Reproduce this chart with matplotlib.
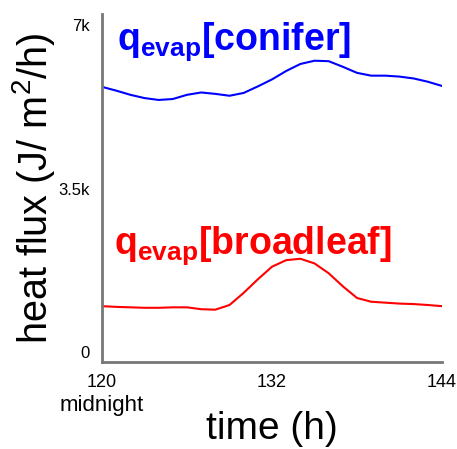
import matplotlib.pyplot as plt

plt.rcParams['font.family'] = ['Liberation Sans', 'DejaVu Sans']
plt.rcParams['mathtext.fontset'] = 'custom'
plt.rcParams['mathtext.rm'] = 'Liberation Sans'
plt.rcParams['mathtext.bf'] = 'Liberation Sans:bold'

# data (hourly)
hours = list(range(120, 145))
q_conifer = [5.68, 5.60, 5.51, 5.44, 5.40, 5.42, 5.51, 5.56, 5.53, 5.49, 5.55, 5.69, 5.84,
             6.02, 6.17, 6.24, 6.23, 6.11, 5.98, 5.92, 5.92, 5.90, 5.86, 5.79, 5.70]
q_broadleaf = [0.985, 0.97, 0.96, 0.95, 0.95, 0.96, 0.96, 0.92, 0.91, 1.01, 1.27, 1.56, 1.83,
               1.97, 2.00, 1.90, 1.69, 1.41, 1.16, 1.08, 1.06, 1.04, 1.03, 1.01, 0.985]

y_ticks = [0, 3.5, 7]
y_ticklabels = ['0', '3.5k', '7k']
x_ticks = [120, 132, 144]
x_ticklabels = ['120', '132', '144']

fig = plt.figure(figsize=(4.57, 4.49), dpi=100)
ax = fig.add_axes([0.2232, 0.1938, 0.744, 0.775])

ax.plot(hours, q_conifer, color='#0000ff', lw=1.5)
ax.plot(hours, q_broadleaf, color='#ff0000', lw=1.5)

ax.set_xlim(120, 144)
ax.set_ylim(-0.21, 7.24)

ax.set_yticks(y_ticks)
ax.set_yticklabels(y_ticklabels, fontsize=12)
ax.set_xticks(x_ticks)
ax.set_xticklabels(x_ticklabels, fontsize=13)
ax.tick_params(length=0, axis='y', pad=9)
ax.tick_params(length=0, axis='x', pad=9)

for s in ['top', 'right']:
    ax.spines[s].set_visible(False)
for s in ['left', 'bottom']:
    ax.spines[s].set_color('#777777')
    ax.spines[s].set_linewidth(2)

ax.set_ylabel(r'heat flux (J/ m$^2$/h)', fontsize=28.5)
ax.yaxis.set_label_coords(-0.132, 0.5)
ax.set_xlabel('time (h)', fontsize=28)
ax.xaxis.set_label_coords(0.5, -0.14)

ax.text(120, -0.125, 'midnight', transform=ax.get_xaxis_transform(),
        ha='center', va='center', fontsize=16)

ax.text(0.045, 0.922, r'q$_{\mathbf{evap}}$[conifer]', transform=ax.transAxes,
        color='#0000ff', fontsize=27, fontweight='bold', va='center', ha='left')
ax.text(0.035, 0.335, r'q$_{\mathbf{evap}}$[broadleaf]', transform=ax.transAxes,
        color='#ff0000', fontsize=27, fontweight='bold', va='center', ha='left')

fig.savefig('out.png', dpi=100)
